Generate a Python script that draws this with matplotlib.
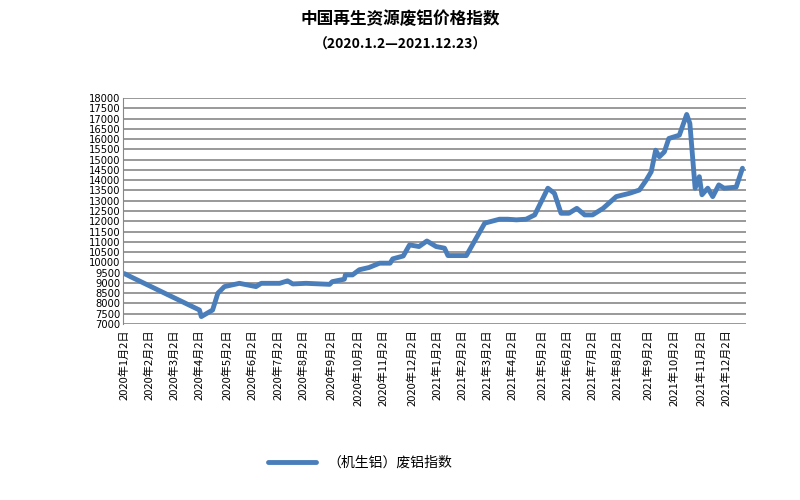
import matplotlib
matplotlib.use("Agg")
import matplotlib.pyplot as plt
plt.rcParams["font.family"] = ["Noto Sans CJK SC"]

month_pos = [0, 0.25, 2.85, 2.92, 3.35, 3.55, 3.8, 4.37, 5.0, 5.2, 5.9, 6.2, 6.4, 6.9, 7.8, 7.9, 8.36, 8.4,
             8.67, 8.93, 9.3, 9.7, 10.1, 10.2, 10.6, 10.84, 11.2, 11.5, 11.85, 12.17, 12.3, 13.0, 13.7, 14.26,
             14.57, 14.9, 15.27, 15.6, 16.1, 16.35, 16.6, 16.9, 17.2, 17.5, 17.8, 18.2, 18.7, 19.2, 19.58,
             19.84, 20.03, 20.2, 20.34, 20.53, 20.7, 21.1, 21.38, 21.5, 21.7, 21.86, 21.96, 22.18, 22.37,
             22.6, 22.8, 23.26, 23.5]
index_values = [9450, 9290, 7680, 7360, 7680, 8500, 8820, 8980, 8820, 8980, 8980, 9100, 8950, 8980, 8930, 9060,
                9180, 9390, 9390, 9640, 9750, 9960, 9960, 10170, 10310, 10850, 10770, 11040, 10770, 10690,
                10330, 10330, 11910, 12100, 12100, 12070, 12100, 12310, 13610, 13360, 12390, 12390, 12630,
                12310, 12310, 12630, 13200, 13360, 13520, 14000, 14410, 15460, 15140, 15380, 16030, 16190,
                17200, 16760, 13610, 14170, 13290, 13610, 13200, 13770, 13610, 13660, 14580]
tick_labels = [f"2020年{m}月2日" for m in range(1, 13)] + [f"2021年{m}月2日" for m in range(1, 13)]
tick_pos = [0, 0.95, 1.9, 2.85, 3.9, 4.85, 5.85, 6.8, 7.85, 8.9, 9.85, 10.95,
            11.9, 12.85, 13.8, 14.75, 15.9, 16.85, 17.8, 18.75, 19.9, 20.9, 21.95, 22.9]

fig = plt.figure(figsize=(8, 5), dpi=100)
ax = fig.add_axes([0.154, 0.352, 0.779, 0.452])
ax.plot(month_pos, index_values, color="#4a7ebb", lw=3.5, solid_capstyle="round",
        label="（机生铝）废铝指数")
ax.set_xlim(-0.05, 23.65)
ax.set_ylim(7000, 18000)
ax.set_yticks(range(7000, 18001, 500))
ax.set_yticklabels([str(v) for v in range(7000, 18001, 500)], fontsize=7.2, family="DejaVu Sans")
ax.tick_params(axis="y", length=0, pad=2)
ax.yaxis.grid(True, color="#888888", lw=1.2)
ax.set_axisbelow(True)
ax.set_xticks(tick_pos)
ax.set_xticklabels(tick_labels, rotation=90, fontsize=8)
ax.tick_params(axis="x", length=0, pad=4)
for s in ["top", "right", "bottom"]:
    ax.spines[s].set_visible(False)
ax.spines["left"].set_color("#888888")
fig.text(0.5, 0.962, "中国再生资源废铝价格指数", ha="center", va="center", fontsize=12, fontweight="bold")
fig.text(0.5, 0.91, "（2020.1.2—2021.12.23）", ha="center", va="center", fontsize=10, fontweight="bold")
fig.legend(loc="center", bbox_to_anchor=(0.45, 0.074), frameon=False, fontsize=10, handlelength=3.5)
fig.savefig("out.png")
